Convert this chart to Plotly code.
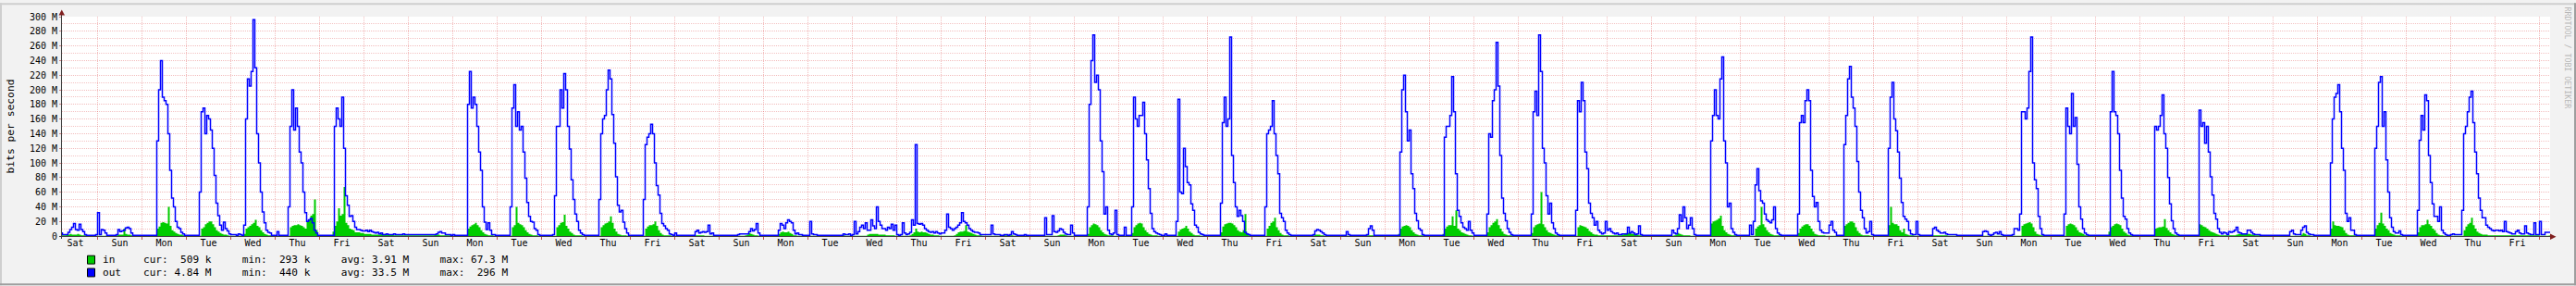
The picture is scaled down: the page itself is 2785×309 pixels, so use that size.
import plotly.graph_objects as go

# ---------------- data (M bits/s, hourly, each day starts at 00:00) ----------------
out_week1 = [
    [1,1,1,1,4,2,2,2,5,9,12,17,9,8,16,9,6,2,1,1,1,1,1,2],                         # Sat
    [32,2,9,8,4,1,1,1,1,1,2,9,6,7,8,11,12,10,4,1,1,1,1,1],                        # Sun
    [1,1,1,1,1,1,1,1,130,200,240,190,185,180,140,90,52,40,20,12,10,5,3,1],         # Mon
    [1,1,1,1,1,1,1,60,170,175,140,165,160,145,120,83,45,28,15,8,19,10,7,3],        # Tue
    [2,2,2,1,3,2,1,15,160,215,205,225,296,230,140,100,60,33,18,8,5,4,1,1],         # Wed
    [1,6,1,1,1,1,1,40,150,200,145,175,150,115,100,60,32,20,22,24,18,8,4,1],        # Thu
    [1,1,1,1,1,1,1,1,150,175,160,150,190,120,55,42,27,28,20,12,9,9,8,7],           # Fri
]
out_week2 = [
    [7,8,6,8,6,5,4,5,3,4,2,2,3,2,2,2,3,2,2,2,2,3,2,2],
    [2,2,2,2,2,2,2,2,2,2,2,2,2,2,2,3,5,6,4,4,2,2,2,1],
    [2,1,1,1,1,1,1,1,180,225,175,190,180,150,115,90,40,19,9,18,8,2,2,1],
    [1,1,1,1,1,1,1,40,175,207,150,170,145,150,115,79,46,27,20,19,10,8,2,1],
    [1,1,1,1,1,1,2,55,150,150,200,175,222,200,150,119,77,50,30,20,8,4,2,1],
    [1,1,1,1,1,1,1,50,140,160,165,200,227,215,166,127,81,42,33,35,19,10,4,1],
    [1,1,1,1,1,1,1,50,125,135,140,153,140,100,69,56,31,17,14,10,8,3,2,1],
]
out_week3 = [
    [4,1,1,1,1,1,1,1,1,1,1,6,8,4,5,6,5,6,15,3,4,1,1,1],
    [1,1,1,1,1,1,1,1,1,1,2,3,3,3,3,3,6,10,7,9,17,4,1,1],
    [1,1,1,1,1,1,1,1,8,17,15,10,18,22,20,18,8,3,4,2,2,1,1,1],
    [1,20,3,2,2,1,1,1,1,1,1,1,1,1,1,1,1,1,1,3,2,2,3,1],
    [2,20,3,6,12,15,10,18,8,8,22,14,10,40,20,15,10,10,8,12,10,16,8,15],
    [2,1,2,18,4,2,3,5,22,15,125,17,16,17,15,10,8,6,5,6,4,6,4,3],
    [4,4,8,30,12,10,8,10,12,15,18,32,20,18,15,10,8,6,5,5,4,2,2,2],
]
out_week4 = [
    [2,2,2,15,3,2,2,2,1,1,2,2,1,2,6,3,2,1,1,1,1,2,1,1],
    [1,1,1,1,1,1,1,1,25,2,2,2,28,6,5,7,10,9,5,3,2,2,15,4],
    [1,1,1,1,1,1,1,40,180,240,275,210,220,200,130,88,30,40,8,3,2,4,35,2],
    [1,1,1,12,1,1,1,40,190,160,150,165,165,183,140,104,65,31,10,6,4,3,2,1],
    [1,3,1,1,1,1,1,20,187,60,58,120,95,73,70,44,35,15,12,5,3,2,1,1],
    [1,1,1,1,1,1,1,45,155,190,150,160,272,110,73,40,27,35,28,20,5,3,2,1],
    [1,1,1,1,1,1,1,40,140,145,150,185,140,110,85,31,25,20,8,4,2,1,1,1],
]
out_week5 = [
    [1,1,1,1,1,1,1,1,1,2,7,9,8,6,4,2,1,1,1,1,1,1,1,1],
    [1,1,1,6,2,1,1,1,1,1,1,1,1,1,2,10,14,8,1,1,1,1,1,1],
    [1,1,1,1,1,1,1,1,115,200,220,170,130,145,85,65,31,21,10,8,2,1,1,1],
    [1,1,1,1,1,1,1,1,135,150,150,165,218,170,85,35,27,18,12,10,8,20,8,4],
    [1,1,1,1,1,1,1,30,140,135,185,200,265,205,110,52,31,21,10,5,2,1,1,1],
    [1,1,1,1,1,1,1,30,170,198,165,275,225,120,100,55,30,45,18,10,4,2,1,1],
    [1,1,1,1,1,1,1,35,185,170,210,185,115,92,45,31,25,15,20,8,5,3,4,20],
]
out_week6 = [
    [8,10,6,4,3,4,2,2,3,3,3,12,4,6,4,2,3,14,2,1,1,1,1,1],
    [1,1,1,1,1,1,1,1,1,1,1,8,4,3,10,29,20,40,25,10,15,25,10,2],
    [1,1,1,1,1,1,1,1,130,165,200,165,160,215,245,130,100,40,45,10,5,2,1,1],
    [1,1,1,1,1,15,2,20,70,92,62,48,45,30,22,20,18,22,40,10,4,2,1,1],
    [1,1,1,1,1,1,1,30,155,165,155,185,200,185,90,54,40,46,20,8,5,4,4,4],
    [15,20,8,5,1,1,1,1,125,165,215,232,190,175,150,102,60,35,25,10,4,6,20,2],
    [1,1,1,1,1,1,1,1,120,190,210,160,144,115,79,46,27,23,20,8,3,2,2,20],
]
out_week7 = [
    [2,1,1,1,1,1,1,1,10,12,8,6,4,4,5,3,2,2,2,2,2,1,1,1],
    [1,1,1,1,1,1,1,1,1,1,1,6,7,6,2,1,2,4,5,3,6,2,1,1],
    [1,1,1,2,10,10,8,30,170,170,160,175,225,272,100,77,65,27,10,2,1,1,1,1],
    [1,1,1,1,1,1,1,30,175,150,140,195,150,162,98,40,23,10,4,2,1,1,1,1],
    [1,1,1,1,1,1,1,1,170,225,170,165,140,90,52,27,23,10,4,2,1,1,1,1],
    [1,1,1,1,1,1,1,1,150,145,150,165,193,140,120,80,44,21,10,4,2,1,1,1],
    [1,1,1,1,1,1,1,1,172,150,155,127,150,115,81,56,31,23,10,5,3,5,4,2],
]
out_week8 = [
    [6,5,6,8,12,5,4,3,3,3,8,8,5,3,2,2,2,1,1,1,1,1,1,1],
    [1,1,1,1,1,1,1,1,1,6,8,3,2,2,2,8,12,14,5,3,2,2,1,1],
    [1,1,1,1,1,1,1,100,160,190,195,207,170,120,90,31,20,25,8,8,2,1,1,1],
    [1,1,1,1,1,1,1,120,150,210,218,150,170,104,60,25,12,6,4,4,7,2,1,1],
    [1,1,1,1,1,1,35,131,165,145,193,185,110,73,44,27,27,20,40,8,4,2,1,1],
    [2,3,2,2,2,2,35,140,150,170,190,198,155,115,85,52,35,25,25,15,12,10,8,7],
    [8,8,7,8,6,20,6,5,4,3,3,6,8,4,3,3,14,4,3,2,2,18,2,2],
]
out_tail = [20,2,2,5,5,5]

in_week1 = [
    [.4,.4,.4,.4,1,1,1,2,2,3,2,2,2,3,2,1,1,1,.4,.4,.4,.4,.4,.4],
    [.4,.4,.4,.4,.4,.4,.4,.4,1,1,1,2,2,2,10,3,2,2,1,1,.4,.4,.4,.4],
    [.4,.4,.4,.4,.4,.4,.4,.4,10,13,18,19,18,17,40,14,8,6,4,3,2,2,1,.4],
    [.4,.4,.4,.4,.4,.4,.4,.4,10,12,16,18,20,20,16,12,8,6,4,3,2,2,1,.4],
    [.4,.4,.4,.4,.4,.4,.4,3,10,12,14,16,18,22,14,12,8,5,3,2,1,1,.4,.4],
    [.4,.4,.4,.4,.4,.4,.4,.4,12,14,15,15,16,15,14,12,10,20,22,28,30,50,8,1],
    [.4,.4,.4,.4,.4,.4,.4,6,14,20,38,28,30,67,18,15,10,9,8,5,5,5,4,4],
]
in_week2 = [
    [3,3,3,3,2,2,2,2,2,3,3,3,2,2,2,2,1,1,1,1,1,1,1,1],
    [1,1,1,1,1,1,1,1,1,1,1,1,1,1,2,2,2,1,1,1,1,1,1,1],
    [.4,.4,.4,.4,.4,.4,.4,.4,10,13,15,16,18,15,12,8,5,3,2,1,1,1,.4,.4],
    [.4,.4,.4,.4,.4,.4,.4,.4,12,15,40,18,16,15,12,8,5,3,2,1,1,1,.4,.4],
    [.4,.4,.4,.4,.4,.4,.4,.4,12,15,18,19,29,14,10,6,4,2,1,1,1,1,.4,.4],
    [.4,.4,.4,.4,.4,.4,.4,.4,12,15,17,18,20,27,18,10,6,3,2,1,1,1,.4,.4],
    [.4,.4,.4,.4,.4,.4,.4,.4,10,13,15,15,16,20,14,8,4,2,1,1,1,1,.4,.4],
]
in_week3 = [
    [.4,.4,.4,.4,.4,.4,.4,.4,1,1,1,1,1,1,1,1,.4,.4,.4,.4,.4,.4,.4,.4],
    [.4,.4,.4,.4,.4,.4,.4,.4,.4,.4,.4,.4,.4,.4,1,2,4,3,2,1,1,.4,.4,.4],
    [.4,.4,.4,.4,.4,.4,.4,1,3,5,6,5,5,6,4,3,1,1,.4,.4,.4,.4,.4,.4],
    [.4,.4,.4,.4,.4,.4,.4,.4,.4,.4,.4,.4,1,1,1,1,1,1,1,1,.4,.4,.4,.4],
    [.4,.4,.4,.4,.4,.4,.4,.4,2,3,3,3,3,3,2,2,2,2,1,1,1,1,1,.4],
    [.4,.4,.4,.4,.4,.4,.4,1,3,5,10,6,5,6,5,5,4,3,2,2,1,1,1,.4],
    [.4,.4,.4,.4,.4,.4,.4,1,3,5,6,6,7,15,6,5,4,3,2,1,1,1,.4,.4],
]
in_week4 = [
    [.4,.4,.4,.4,.4,.4,.4,.4,.4,1,1,1,1,1,1,.4,.4,.4,.4,.4,.4,.4,.4,.4],
    [.4,.4,.4,.4,.4,.4,.4,.4,.4,.4,.4,.4,.4,.4,.4,1,2,2,2,1,.4,.4,.4,.4],
    [.4,.4,.4,.4,.4,.4,.4,3,12,15,17,16,15,12,8,5,3,2,1,1,1,.4,.4,.4],
    [.4,.4,.4,.4,.4,.4,.4,4,12,15,17,18,17,12,8,5,3,2,1,1,1,.4,.4,.4],
    [.4,.4,.4,.4,.4,.4,.4,.4,6,9,10,11,14,10,6,4,2,1,1,1,.4,.4,.4,.4],
    [.4,.4,.4,.4,.4,.4,.4,5,13,16,17,18,18,17,15,12,8,6,5,8,30,4,1,1],
    [.4,.4,.4,.4,.4,.4,.4,.4,10,14,18,20,25,12,8,4,2,1,1,1,.4,.4,.4,.4],
]
in_week5 = [
    [.4,.4,.4,.4,.4,.4,.4,.4,.4,1,2,2,2,1,1,.4,.4,.4,.4,.4,.4,.4,.4,.4],
    [.4,.4,.4,.4,.4,.4,.4,.4,.4,.4,.4,.4,.4,.4,1,1,1,1,.4,.4,.4,.4,.4,.4],
    [.4,.4,.4,.4,.4,.4,.4,3,10,13,14,15,14,12,8,5,3,2,1,1,1,.4,.4,.4],
    [.4,.4,.4,.4,.4,.4,.4,3,10,13,15,15,27,14,35,10,8,5,4,3,2,1,1,.4],
    [.4,.4,.4,.4,.4,.4,.4,5,12,15,18,20,23,15,10,6,3,2,1,1,1,.4,.4,.4],
    [.4,.4,.4,.4,.4,.4,.4,4,12,15,16,17,60,16,12,8,5,4,3,2,1,1,.4,.4],
    [.4,.4,.4,.4,.4,.4,.4,.4,12,15,14,13,12,10,7,5,3,2,2,1,1,1,1,1],
]
in_week6 = [
    [1,1,1,1,1,1,1,1,2,3,4,4,4,3,3,3,2,1,1,1,1,1,1,1],
    [.4,.4,.4,.4,.4,.4,.4,.4,.4,.4,.4,.4,1,2,4,3,2,1,1,1,1,.4,.4,.4],
    [.4,.4,.4,.4,.4,.4,.4,.4,17,20,21,22,24,28,14,8,5,3,2,1,1,1,.4,.4],
    [.4,.4,.4,.4,.4,.4,.4,.4,10,13,15,40,16,12,8,5,3,2,1,1,1,1,.4,.4],
    [.4,.4,.4,.4,.4,.4,.4,4,10,13,15,16,16,14,10,6,3,2,1,1,1,1,.4,.4],
    [.4,.4,.4,.4,.4,.4,.4,.4,14,16,18,20,20,18,12,7,4,2,1,1,1,1,.4,.4],
    [.4,.4,.4,.4,.4,.4,.4,.4,15,40,18,16,16,14,8,5,10,3,2,1,1,1,.4,.4],
]
in_week7 = [
    [.4,.4,.4,.4,.4,.4,.4,.4,1,1,1,1,1,1,1,1,.4,.4,.4,.4,.4,.4,.4,.4],
    [.4,.4,.4,.4,.4,.4,.4,.4,.4,.4,.4,.4,.4,.4,.4,.4,.4,.4,.4,.4,.4,.4,.4,.4],
    [.4,.4,.4,.4,.4,.4,.4,.4,14,16,17,18,19,17,12,6,3,2,1,1,1,1,.4,.4],
    [.4,.4,.4,.4,.4,.4,.4,.4,14,16,17,16,15,12,8,5,4,3,1,1,1,1,.4,.4],
    [.4,.4,.4,.4,.4,.4,.4,6,12,14,16,17,16,15,10,6,4,2,1,1,1,1,.4,.4],
    [.4,.4,.4,.4,.4,.4,.4,.4,10,11,12,12,13,23,11,8,5,3,2,1,1,1,.4,.4],
    [.4,.4,.4,.4,.4,.4,.4,.4,16,15,13,12,10,8,6,5,4,3,2,1,1,1,1,1],
]
in_week8 = [
    [1,1,1,1,2,3,3,3,3,3,3,3,2,2,1,1,1,1,1,1,1,1,1,1],
    [.4,.4,.4,.4,.4,.4,.4,.4,.4,.4,.4,.4,.4,.4,.4,2,4,3,1,1,.4,.4,.4,.4],
    [.4,.4,.4,.4,.4,.4,.4,10,20,15,14,14,13,12,8,4,2,1,1,1,1,.4,.4,.4],
    [.4,.4,.4,.4,.4,.4,.4,10,15,18,32,17,14,10,8,4,3,2,1,1,1,.4,.4,.4],
    [.4,.4,.4,.4,.4,.4,5,12,15,15,16,22,16,14,10,8,4,2,1,1,.4,.4,.4,.4],
    [.4,.4,.4,.4,.4,.4,.4,8,13,16,18,25,15,10,6,4,3,2,2,2,1,1,1,1],
    [1,1,1,1,1,1,1,1,1,1,1,1,1,1,1,1,1,1,1,1,1,1,1,1],
]
in_tail = [.4,.4,.4,.4,.4,.5]

week_days = ["Sat", "Sun", "Mon", "Tue", "Wed", "Thu", "Fri"]
y_tick_values = [0, 20, 40, 60, 80, 100, 120, 140, 160, 180, 200, 220, 240, 260, 280, 300]
y_tick_labels = ["0", "20 M", "40 M", "60 M", "80 M", "100 M", "120 M", "140 M", "160 M",
                 "180 M", "200 M", "220 M", "240 M", "260 M", "280 M", "300 M"]
legend_names = ["in", "out"]
legend_stats = ["cur:  509 k     min:  293 k     avg: 3.91 M     max: 67.3 M",
                "cur: 4.84 M     min:  440 k     avg: 33.5 M     max:  296 M"]
legend_colors = ["#00CC00", "#0000FF"]
watermark = "RRDTOOL / TOBI OETIKER"
y_title = "bits per second"

# ---------------- assemble ----------------
def flatten(weeks):
    vals = []
    for wk in weeks:
        assert len(wk) == 7
        for day in wk:
            assert len(day) == 24, len(day)
            vals.extend(day)
    return vals

out_vals = flatten([out_week1, out_week2, out_week3, out_week4,
                    out_week5, out_week6, out_week7, out_week8]) + out_tail
in_vals = flatten([in_week1, in_week2, in_week3, in_week4,
                   in_week5, in_week6, in_week7, in_week8]) + in_tail
n = len(out_vals)
hours = list(range(n + 1))
out_y = out_vals + [out_vals[-1]]
in_y = in_vals + [in_vals[-1]]

n_days = 56
day_label_pos = [24 * d + 12 for d in range(n_days)]
day_labels = [week_days[d % 7] for d in range(n_days)]
midnights = [24 * d for d in range(1, n_days + 1)]
x_range = [4.75, 1349.75]

# ---------------- geometry ----------------
W, H = 2785, 309
L, R, T, B = 67, 28, 15, 54
PW, PH = W - L - R, H - T - B
def px(x):
    return (x - L) / PW
def py(y):
    return (H - B - y) / PH

FONT = "DejaVu Sans Mono"
GRID = "rgba(222,79,79,0.38)"
MINOR = "rgba(222,79,79,0.34)"

fig = go.Figure()
fig.add_trace(go.Scatter(x=hours, y=in_y, mode="lines",
                         line=dict(shape="hv", width=0, color="#00CC00"),
                         fill="tozeroy", fillcolor="#00CC00", hoverinfo="skip"))
fig.add_trace(go.Scatter(x=hours, y=out_y, mode="lines",
                         line=dict(shape="hv", width=1.5, color="#0000FF"), hoverinfo="skip"))

shapes = []
# frame shading
shapes.append(dict(type="rect", xref="paper", yref="paper", x0=px(0), x1=px(W), y0=py(2), y1=py(0),
                   fillcolor="#CFCFCF", line=dict(width=0), layer="above"))
shapes.append(dict(type="rect", xref="paper", yref="paper", x0=px(0), x1=px(2), y0=py(H), y1=py(0),
                   fillcolor="#CFCFCF", line=dict(width=0), layer="above"))
shapes.append(dict(type="rect", xref="paper", yref="paper", x0=px(0), x1=px(W), y0=py(H), y1=py(H - 2),
                   fillcolor="#9E9E9E", line=dict(width=0), layer="above"))
shapes.append(dict(type="rect", xref="paper", yref="paper", x0=px(W - 2), x1=px(W), y0=py(H), y1=py(0),
                   fillcolor="#9E9E9E", line=dict(width=0), layer="above"))
# axes
shapes.append(dict(type="line", xref="paper", yref="paper", x0=px(66.5), x1=px(66.5), y0=py(258), y1=py(10),
                   line=dict(color="#404040", width=1), layer="above"))
shapes.append(dict(type="line", xref="paper", yref="paper", x0=px(64), x1=px(2759), y0=py(255.5), y1=py(255.5),
                   line=dict(color="#404040", width=1), layer="above"))
# arrows
shapes.append(dict(type="path", xref="paper", yref="paper",
                   path=f"M {px(63.5)} {py(13.5)} L {px(70)} {py(13.5)} L {px(66.75)} {py(7.5)} Z",
                   fillcolor="#801F1F", line=dict(width=0), layer="above"))
shapes.append(dict(type="path", xref="paper", yref="paper",
                   path=f"M {px(2757)} {py(252.5)} L {px(2757)} {py(259)} L {px(2763.5)} {py(255.75)} Z",
                   fillcolor="#801F1F", line=dict(width=0), layer="above"))
# legend boxes
for i, c in enumerate(legend_colors):
    yc = 281 + 14 * i
    shapes.append(dict(type="rect", xref="paper", yref="paper", x0=px(94.5), x1=px(102.5),
                       y0=py(yc + 4.5), y1=py(yc - 4.5), fillcolor=c,
                       line=dict(color="#000000", width=1), layer="above"))

annotations = []
annotations.append(dict(text=y_title, x=px(11), y=py(135), xref="paper", yref="paper",
                        textangle=-90, showarrow=False, xanchor="center", yanchor="middle",
                        font=dict(family=FONT, size=11.3, color="#000000")))
for i in range(2):
    yc = 281 + 14 * i
    annotations.append(dict(text=legend_names[i], x=px(109), y=py(yc), xref="paper", yref="paper",
                            showarrow=False, xanchor="left", yanchor="middle",
                            font=dict(family=FONT, size=11.1, color="#000000")))
    annotations.append(dict(text=legend_stats[i].replace(" ", "&nbsp;"), x=px(153), y=py(yc),
                            xref="paper", yref="paper", showarrow=False, xanchor="left", yanchor="middle",
                            font=dict(family=FONT, size=11.1, color="#000000")))
annotations.append(dict(text=watermark, x=px(2776), y=py(60), xref="paper", yref="paper",
                        textangle=90, showarrow=False, xanchor="center", yanchor="middle",
                        font=dict(family=FONT, size=8.3, color="#B8B8B8")))

fig.update_layout(
    width=W, height=H,
    margin=dict(l=L, r=R, t=T, b=B, pad=0),
    paper_bgcolor="#F2F2F2", plot_bgcolor="#FFFFFF",
    showlegend=False,
    shapes=shapes, annotations=annotations,
    xaxis=dict(range=x_range, tickmode="array", tickvals=day_label_pos, ticktext=day_labels,
               ticks="", showgrid=False, zeroline=False, showline=False,
               tickfont=dict(family=FONT, size=10, color="#000000"),
               minor=dict(tickmode="array", tickvals=midnights, showgrid=True, gridcolor=GRID,
                          griddash="1px,1px", gridwidth=1, ticks="outside", ticklen=3,
                          tickcolor="#C05050", tickwidth=1)),
    yaxis=dict(range=[0, 300], tickmode="array", tickvals=y_tick_values, ticktext=y_tick_labels,
               ticks="outside", ticklen=2, tickcolor="#D08080", showgrid=True, gridcolor=GRID,
               griddash="1px,1px", gridwidth=1, zeroline=False, showline=False,
               tickfont=dict(family=FONT, size=10, color="#000000"),
               minor=dict(tickmode="array", tickvals=[v + 10 for v in y_tick_values[:-1]],
                          showgrid=True, gridcolor=MINOR, griddash="1px,1px", gridwidth=1)),
)

fig.write_html("out.html")
